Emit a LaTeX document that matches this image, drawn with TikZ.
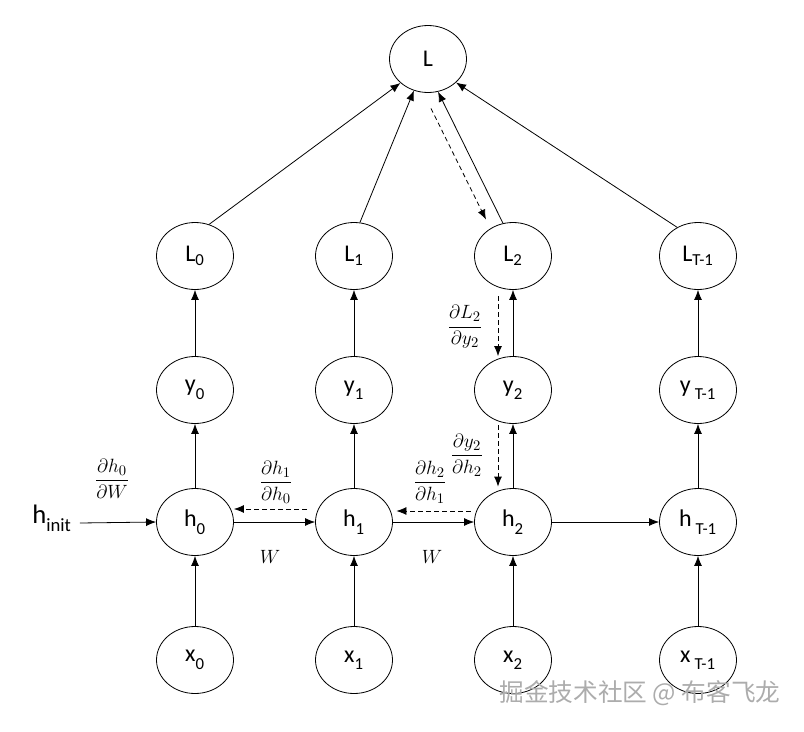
\documentclass[tikz,border=0pt]{standalone}
\usepackage{amsmath}
\usepackage{fontspec}
\setmainfont{Carlito}
\newfontfamily\cjk{Noto Sans CJK SC}
\usetikzlibrary{arrows.meta,calc,shapes.geometric}
\newcommand{\lowsub}[1]{\raisebox{-0.35ex}{\textsubscript{#1}}}
\begin{document}
\begin{tikzpicture}[x=0.75pt,y=-0.75pt,
  nd/.style={draw, ellipse, minimum width=57.75pt, minimum height=50.25pt, inner sep=0pt, line width=0.6pt, font=\fontsize{18}{21}\selectfont},
  arr/.style={-{Latex[length=7.5pt,width=6pt]}, line width=0.6pt},
  darr/.style={arr, dash pattern=on 3.5pt off 2.5pt},
  lab/.style={inner sep=0pt, font=\fontsize{15}{17}\selectfont}]
\useasboundingbox (0,0) rectangle (804,732);
% nodes
\node[nd] (L) at (428,59) {L};
\node[nd] (L0) at (195,256) {L\textsubscript{0}};
\node[nd] (L1) at (354,256) {L\textsubscript{1}};
\node[nd] (L2) at (513,256) {L\textsubscript{2}};
\node[nd] (LT) at (698,256) {L\textsubscript{T-1}};
\node[nd] (y0) at (195,390) {y\lowsub{0}};
\node[nd] (y1) at (354,390) {y\lowsub{1}};
\node[nd] (y2) at (513,390) {y\lowsub{2}};
\node[nd] (yT) at (698,390) {y\,\lowsub{T-1}};
\node[nd] (h0) at (195,522) {h\lowsub{0}};
\node[nd] (h1) at (354,522) {h\lowsub{1}};
\node[nd] (h2) at (513,522) {h\lowsub{2}};
\node[nd] (hT) at (698,522) {h\,\lowsub{T-1}};
\node[nd] (x0) at (195,660) {x\lowsub{0}};
\node[nd] (x1) at (354,660) {x\lowsub{1}};
\node[nd] (x2) at (513,660) {x\lowsub{2}};
\node[nd] (xT) at (698,660) {x\,\lowsub{T-1}};
\node[inner sep=0pt, anchor=base west, font=\fontsize{20}{23}\selectfont] (hi) at (32,523) {h\lowsub{init}};
% vertical arrows
\foreach \c in {0,1,2,T}{
  \draw[arr] (x\c) -- (h\c);
  \draw[arr] (h\c) -- (y\c);
  \draw[arr] (y\c) -- (L\c);
}
% horizontal arrows
\draw[arr] ($(hi.base east)+(8,0)$) -- (h0.west);
\draw[arr] (h0) -- (h1);
\draw[arr] (h1) -- (h2);
\draw[arr] (h2) -- (hT);
% to L
\draw[arr] (L0.66) -- (L.221);
\draw[arr] (L1.80) -- (L.246);
\draw[arr] (L2.107) -- (L.287);
\draw[arr] (LT.126) -- (L.320);
% dashed backprop
\draw[darr] ($(L.south)+(3,15.5)$) -- ($(L2.north)+(-27,-2.5)$);
\draw[darr] ($(L2.south)+(-15,6.5)$) -- ($(y2.north)+(-15,0)$);
\draw[darr] ($(y2.south)+(-15,1.5)$) -- ($(h2.north)+(-15,-1.5)$);
\draw[darr] ($(h2.west)+(-3.5,-11)$) -- ($(h1.east)+(3.5,-11)$);
\draw[darr] ($(h1.west)+(-8,-13)$) -- ($(h0.east)+(0,-13)$);
% labels
\node[lab] (dh0W) at (112,479) {$\dfrac{\partial h_0}{\partial W}$};
\node[lab] (dh1h0) at (276,482) {$\dfrac{\partial h_1}{\partial h_0}$};
\node[lab] (dh2h1) at (430,482) {$\dfrac{\partial h_2}{\partial h_1}$};
\node[lab] (dy2h2) at (467,455) {$\dfrac{\partial y_2}{\partial h_2}$};
\node[lab] (dL2y2) at (465,327) {$\dfrac{\partial L_2}{\partial y_2}$};
\node[lab] (W1) at (270,557) {$W$};
\node[lab] (W2) at (432,557) {$W$};
% watermark
\node[inner sep=0pt, text=gray!65, font=\cjk\fontsize{18.5}{20}\selectfont] (wm) at (640,693) {掘金技术社区 @ 布客飞龙};
\end{tikzpicture}
\end{document}
